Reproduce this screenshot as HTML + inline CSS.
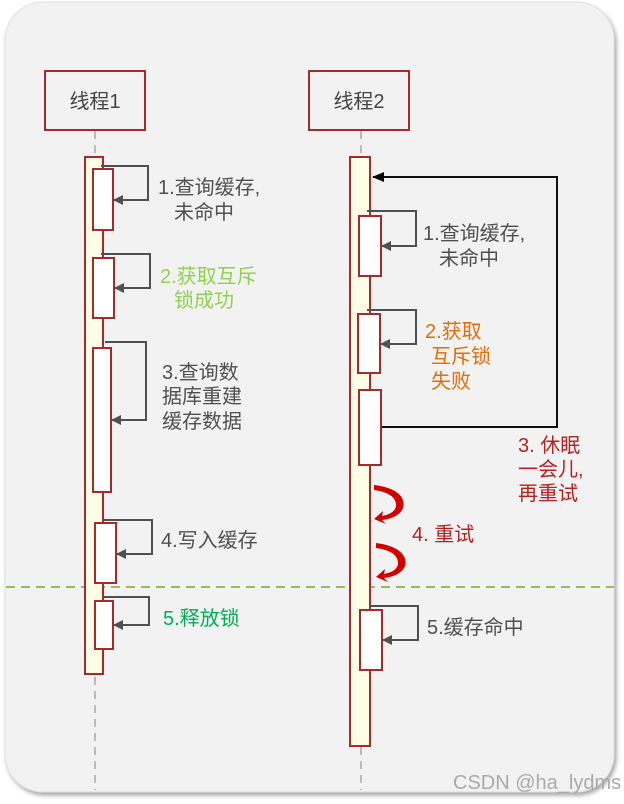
<!DOCTYPE html>
<html><head><meta charset="utf-8"><style>
html,body{margin:0;padding:0;background:#fff;}
svg{display:block;}
text{font-family:"Liberation Sans","Noto Sans CJK SC",sans-serif;font-size:20px;}
</style></head><body>
<svg width="624" height="804" viewBox="0 0 624 804" xmlns="http://www.w3.org/2000/svg">
<defs>
<marker id="ga" markerWidth="10" markerHeight="10" refX="9" refY="5" orient="auto" markerUnits="userSpaceOnUse"><path d="M0,0 L10,5 L0,10 z" fill="#4d5152"/></marker>
<marker id="ba" markerWidth="12" markerHeight="10" refX="11" refY="5" orient="auto" markerUnits="userSpaceOnUse"><path d="M0,0 L12,5 L0,10 z" fill="#000"/></marker>
<filter id="sh" x="-5%" y="-5%" width="110%" height="110%"><feDropShadow dx="2" dy="3" stdDeviation="2" flood-color="#000" flood-opacity="0.35"/></filter>
</defs>
<rect x="0" y="0" width="624" height="804" fill="#fff"/>
<rect x="5" y="2" width="609" height="790" rx="38" fill="#f2f2f2" stroke="#e0e0e0" filter="url(#sh)"/>

<rect x="45" y="71" width="100" height="59" fill="none" stroke="#a52a2a" stroke-width="2"/>
<text x="95" y="108" text-anchor="middle" fill="#444" font-size="22">线程1</text>
<rect x="309" y="71" width="100" height="59" fill="none" stroke="#a52a2a" stroke-width="2"/>
<text x="359" y="108" text-anchor="middle" fill="#444" font-size="22">线程2</text>

<line x1="95" y1="131" x2="95" y2="790" stroke="#bbb" stroke-width="2" stroke-dasharray="8,6"/>
<line x1="361" y1="131" x2="361" y2="790" stroke="#bbb" stroke-width="2" stroke-dasharray="8,6"/>

<line x1="6" y1="587" x2="614" y2="587" stroke="#9bbb59" stroke-width="2" stroke-dasharray="9,6"/>

<rect x="85" y="157" width="18" height="517" fill="#fefee6" stroke="#a52a2a" stroke-width="2"/>
<rect x="350" y="157" width="20" height="589" fill="#fefee6" stroke="#a52a2a" stroke-width="2"/>

<g fill="#fff" stroke="#a52a2a" stroke-width="2">
<rect x="93" y="169" width="20" height="61"/>
<rect x="93" y="258" width="21" height="60"/>
<rect x="93" y="348" width="18" height="144"/>
<rect x="95" y="523" width="21" height="60"/>
<rect x="95" y="601" width="18" height="48"/>
<rect x="359" y="216" width="22" height="60"/>
<rect x="358" y="314" width="22" height="59"/>
<rect x="359" y="390" width="22" height="75"/>
<rect x="360" y="610" width="22" height="60"/>
</g>

<g fill="none" stroke="#4d5152" stroke-width="2" marker-end="url(#ga)">
<path d="M101,166 H148 V200 H114"/>
<path d="M101,254 H150 V288 H115"/>
<path d="M105,342 H146 V420 H112"/>
<path d="M104,520 H152 V554 H117"/>
<path d="M104,597 H149 V625 H114"/>
<path d="M367,211 H416 V246 H382"/>
<path d="M367,310 H416 V344 H381"/>
<path d="M369,606 H418 V640 H383"/>
</g>

<path d="M382,427 H557 V177 H373" fill="none" stroke="#111" stroke-width="2" marker-end="url(#ba)"/>

<g fill="#d00000">
<path d="M374,485 C398,488 406,498 403,508 C400,516 390,519 382,520 L386,524 L374,519 L383,511 L382,516 C392,514 396,510 396,505 C396,497 388,492 374,490 z"/>
<path d="M376,543 C399,546 408,556 405,566 C402,574 392,577 384,578 L388,582 L376,577 L385,569 L384,574 C394,572 398,568 398,563 C398,555 390,550 376,548 z"/>
</g>

<g fill="#505050">
<text x="158" y="194">1.查询缓存,</text>
<text x="174" y="219">未命中</text>
<text x="162" y="379">3.查询数</text>
<text x="162" y="403">据库重建</text>
<text x="162" y="428">缓存数据</text>
<text x="161" y="547">4.写入缓存</text>
<text x="423" y="240">1.查询缓存,</text>
<text x="439" y="265">未命中</text>
<text x="427" y="634">5.缓存命中</text>
</g>
<g fill="#92d050">
<text x="160" y="283">2.获取互斥</text>
<text x="174" y="307">锁成功</text>
</g>
<text x="163" y="625" fill="#00b050">5.释放锁</text>
<g fill="#e46c0a">
<text x="425" y="338">2.获取</text>
<text x="431" y="363">互斥锁</text>
<text x="431" y="388">失败</text>
</g>
<g fill="#b22222">
<text x="518" y="452">3. 休眠</text>
<text x="518" y="476">一会儿,</text>
<text x="518" y="500">再重试</text>
<text x="412" y="541">4. 重试</text>
</g>
<text x="453" y="789" fill="#aaa" font-size="15">CSDN @ha_lydms</text>
</svg>
</body></html>
